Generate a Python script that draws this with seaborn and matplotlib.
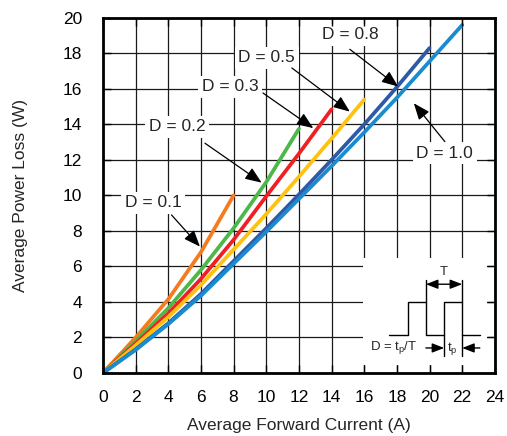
import matplotlib
matplotlib.use("Agg")
import matplotlib.pyplot as plt
import seaborn as sns
import pandas as pd

# ---------------- data ----------------
duty_labels = ["D = 0.1", "D = 0.2", "D = 0.3", "D = 0.5", "D = 0.8", "D = 1.0"]

current_d01 = [0, 2, 4, 6, 8]
loss_d01 = [0, 2.0, 4.15, 6.8, 10.0]

current_d02 = [0, 2, 4, 6, 8, 10, 12]
loss_d02 = [0, 1.8, 3.65, 5.8, 8.15, 10.75, 13.75]

current_d03 = [0, 2, 4, 6, 8, 10, 12, 14]
loss_d03 = [0, 1.65, 3.35, 5.3, 7.5, 9.95, 12.35, 14.85]

current_d05 = [0, 2, 4, 6, 8, 10, 12, 14, 16]
loss_d05 = [0, 1.55, 3.15, 4.95, 6.95, 8.95, 11.05, 13.2, 15.4]

current_d08 = [0, 2, 4, 6, 8, 10, 12, 14, 16, 18, 20]
loss_d08 = [0, 1.33, 2.8, 4.45, 6.3, 8.15, 10.05, 12.0, 14.0, 16.1, 18.3]

current_d10 = [0, 2, 4, 6, 8, 10, 12, 14, 16, 18, 20, 22]
loss_d10 = [0, 1.3, 2.75, 4.35, 6.15, 7.95, 9.8, 11.65, 13.55, 15.5, 17.55, 19.6]

x_ticks = [0, 2, 4, 6, 8, 10, 12, 14, 16, 18, 20, 22, 24]
y_ticks = [0, 2, 4, 6, 8, 10, 12, 14, 16, 18, 20]

currents = [current_d01, current_d02, current_d03, current_d05, current_d08, current_d10]
losses = [loss_d01, loss_d02, loss_d03, loss_d05, loss_d08, loss_d10]

frames = []
for lab, xs, ys in zip(duty_labels, currents, losses):
    frames.append(pd.DataFrame({"current": xs, "loss": ys, "duty": lab}))
df = pd.concat(frames, ignore_index=True)

# ---------------- styling / layout ----------------
colors = ["#F47C20", "#4CB848", "#EE2024", "#FFC20E", "#2E5AA5", "#1A8BD0"]

# annotation layout: text centre, arrow tail, arrow head (axes data units)
text_pos = [(3.06, 9.6), (4.53, 13.86), (7.78, 16.11), (10.04, 17.75), (15.12, 19.04), (20.94, 12.38)]
arrow_tail = [(4.2, 8.9), (6.25, 12.94), (9.8, 15.77), (11.57, 17.18), (15.12, 18.23), (20.94, 13.03)]
arrow_head = [(5.94, 7.12), (9.72, 10.72), (12.88, 13.79), (15.12, 14.72), (18.08, 16.13), (19.04, 15.19)]

sns.set_style("white")
plt.rcParams["font.family"] = ["Liberation Sans", "DejaVu Sans"]
plt.rcParams["mathtext.default"] = "regular"

fig = plt.figure(figsize=(5.07, 4.36), dpi=100)
rect = [0.203, 0.1445, 0.773, 0.8145]
ax = fig.add_axes(rect)

sns.lineplot(data=df, x="current", y="loss", hue="duty", palette=colors,
             hue_order=duty_labels, estimator=None, sort=False,
             linewidth=2.7, legend=False, ax=ax, zorder=2)

ax.set_xlim(0, 24)
ax.set_ylim(0, 20)
ax.set_xticks(x_ticks)
ax.set_yticks(y_ticks)
ax.grid(True, color="#1a1a1a", linewidth=0.9)
ax.set_axisbelow(True)
for s in ax.spines.values():
    s.set_visible(False)
ax.tick_params(axis="both", length=0, labelsize=12.5, colors="black")
ax.tick_params(axis="x", pad=12)
ax.tick_params(axis="y", pad=15)

ax.set_xlabel("Average Forward Current (A)", fontsize=12.5)
ax.set_ylabel("Average Power Loss (W)", fontsize=12.5)
ax.xaxis.set_label_coords(0.5, -0.127)
ax.yaxis.set_label_coords(-0.19, 0.5)

for lab, tp, tl, hd in zip(duty_labels, text_pos, arrow_tail, arrow_head):
    ax.annotate("", xy=hd, xytext=tl,
                arrowprops=dict(arrowstyle="-|>,head_length=1.0,head_width=0.4",
                                mutation_scale=10, color="black", lw=0.9,
                                shrinkA=0, shrinkB=0), zorder=4)
    ax.text(tp[0], tp[1], lab, ha="center", va="center", fontsize=12.5,
            bbox=dict(boxstyle="square,pad=0.2", fc="white", ec="none"), zorder=3)

# ---------------- inset schematic (duty-cycle definition) ----------------
ins = ax.inset_axes([15.95, 0.45, 7.6, 6.05], transform=ax.transData)
ins.set_xlim(15.95, 23.55)
ins.set_ylim(0.45, 6.5)
ins.set_facecolor("white")
ins.set_xticks([])
ins.set_yticks([])
ins.grid(False)
for s in ins.spines.values():
    s.set_visible(False)

wave_x = [17.53, 18.69, 18.69, 19.78, 19.78, 20.9, 20.9, 22.0, 22.0, 23.08]
wave_y = [2.14, 2.14, 3.98, 3.98, 2.14, 2.14, 3.98, 3.98, 2.14, 2.14]
ins.plot(wave_x, wave_y, color="black", lw=1.0)
ins.plot([19.78, 19.78], [3.98, 5.24], color="black", lw=1.0)
ins.plot([22.0, 22.0], [3.98, 5.24], color="black", lw=1.0)
ins.plot([20.9, 20.9], [2.14, 0.96], color="black", lw=1.0)
ins.plot([22.0, 22.0], [2.14, 0.96], color="black", lw=1.0)
ins.annotate("", xy=(22.0, 5.0), xytext=(19.78, 5.0),
             arrowprops=dict(arrowstyle="<|-|>,head_length=0.9,head_width=0.35",
                             mutation_scale=8, color="black", lw=1.0,
                             shrinkA=0, shrinkB=0))
ins.annotate("", xy=(20.9, 1.41), xytext=(19.78, 1.41),
             arrowprops=dict(arrowstyle="-|>,head_length=0.9,head_width=0.35",
                             mutation_scale=8, color="black", lw=1.0,
                             shrinkA=0, shrinkB=0))
ins.annotate("", xy=(22.0, 1.41), xytext=(23.08, 1.41),
             arrowprops=dict(arrowstyle="-|>,head_length=0.9,head_width=0.35",
                             mutation_scale=8, color="black", lw=1.0,
                             shrinkA=0, shrinkB=0))
ins.text(20.9, 5.7, "T", ha="center", va="center", fontsize=9.5)
ins.text(17.78, 1.41, "D = t$_p$/T", ha="center", va="center", fontsize=9.5)
ins.text(21.42, 1.38, "t$_p$", ha="center", va="center", fontsize=9.5)

# ---------------- overlay frame with inward ticks ----------------
ax2 = fig.add_axes(rect)
ax2.patch.set_visible(False)
ax2.set_xlim(0, 24)
ax2.set_ylim(0, 20)
ax2.set_xticks(x_ticks)
ax2.set_yticks(y_ticks)
ax2.grid(False)
ax2.tick_params(axis="both", direction="in", length=6, width=1.0, colors="black",
                top=True, right=True, bottom=True, left=True,
                labelbottom=False, labelleft=False)
for s in ax2.spines.values():
    s.set_visible(True)
    s.set_linewidth(2.0)
    s.set_color("black")

fig.savefig("out.png", dpi=100)
